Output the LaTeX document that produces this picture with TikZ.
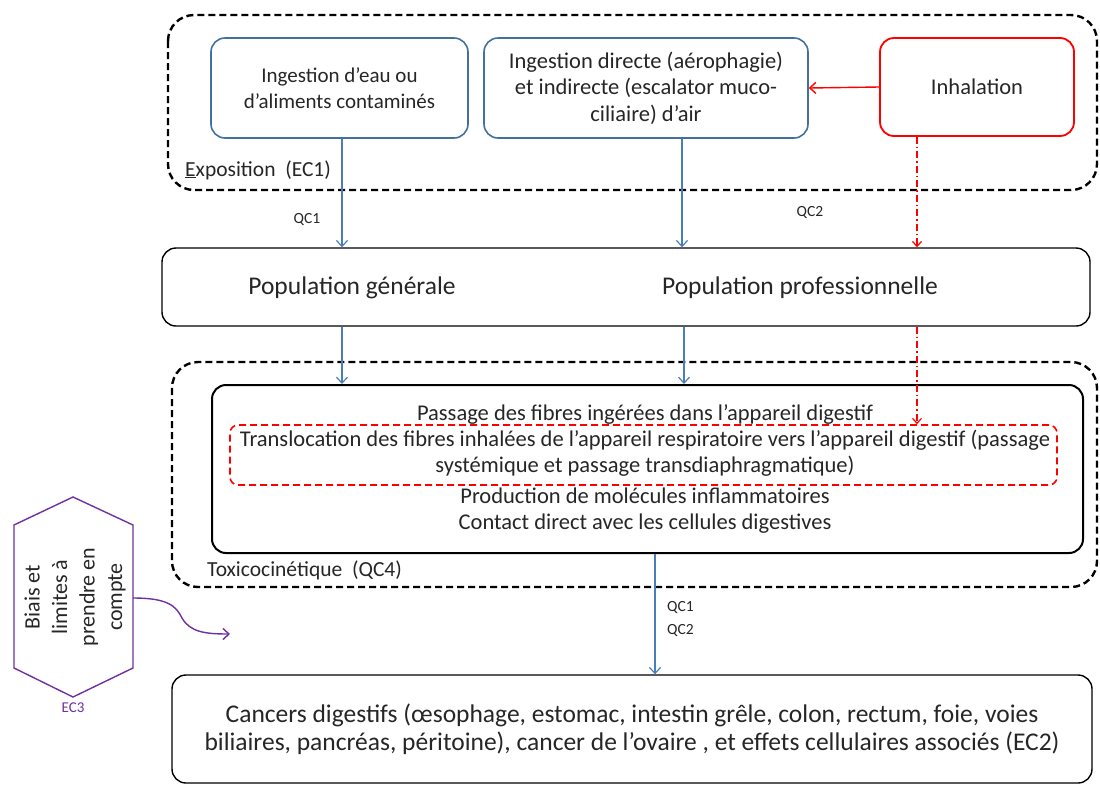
\documentclass[tikz,border=0pt]{standalone}
\usepackage{fontspec}
\setmainfont{Carlito}
\usetikzlibrary{arrows.meta}
\definecolor{boxblue}{HTML}{41719C}
\definecolor{arrblue}{HTML}{4A7EBB}
\definecolor{myred}{HTML}{FF0000}
\definecolor{mypurple}{HTML}{7030A0}
\definecolor{txt}{HTML}{262626}
\tikzset{
  every node/.style={text=txt},
  bluebox/.style={draw=boxblue, line width=1.6pt, rounded corners=14pt, align=center,
    font=\fontsize{21}{26.5}\selectfont, inner sep=0pt},
  redbox/.style={draw=myred, line width=1.8pt, rounded corners=14pt, align=center,
    font=\fontsize{22.5}{26.5}\selectfont, inner sep=0pt},
  blackbox/.style={draw=black, line width=1.4pt, rounded corners=14pt, align=center, inner sep=0pt},
  groupbox/.style={draw=black, line width=2.4pt, dash pattern=on 7pt off 4pt, rounded corners=26pt},
  reddash/.style={draw=myred, line width=1.6pt, dash pattern=on 7pt off 4pt, rounded corners=8pt},
  bluearrow/.style={draw=arrblue, line width=1.2pt, -{Straight Barb[length=6pt,width=11pt,line width=1.2pt]}},
  redarrow/.style={draw=myred, line width=1.4pt, -{Straight Barb[length=6pt,width=11pt,line width=1.4pt]}},
  reddashdot/.style={draw=myred, line width=1.2pt, dash pattern=on 7pt off 3pt on 1.5pt off 3pt, -{Straight Barb[length=5pt,width=9pt,line width=1.2pt]}},
  lbl/.style={font=\fontsize{21.5}{24}\selectfont, inner sep=0pt, anchor=west},
  qc/.style={font=\fontsize{15.5}{23}\selectfont, inner sep=0pt, align=left}
}
\begin{document}
\begin{tikzpicture}[x=1pt,y=-1pt]
\useasboundingbox (0,0) rectangle (1100,785);

% group boxes
\draw[groupbox] (168,15) rectangle (1097,190);
\draw[groupbox] (172,362) rectangle (1097,587);
\node[lbl] (explbl) at (185,170) {\underline{E}xposition\ \ (EC1)};
\node[lbl] (toxlbl) at (207,570) {Toxicocinétique\ \ (QC4)};

% exposure boxes
\node[bluebox, minimum width=257pt, minimum height=100pt] (b1) at (339.5,88)
  {Ingestion d’eau ou\\d’aliments contaminés};
\node[bluebox, font=\fontsize{22.5}{26.5}\selectfont, minimum width=324pt, minimum height=100pt] (b2) at (646,88)
  {Ingestion directe (aérophagie)\\et indirecte (escalator muco-\\ciliaire) d’air};
\node[redbox, minimum width=194pt, minimum height=98pt] (inh) at (977,87) {Inhalation};

\draw[redarrow] (inh.west) -- (b2.east);

% population
\node[blackbox, minimum width=928pt, minimum height=78pt] (pop) at (626,287) {};
\node[font=\fontsize{25.5}{30}\selectfont, inner sep=0pt] (popg) at (352,288) {Population générale};
\node[font=\fontsize{25.5}{30}\selectfont, inner sep=0pt] (popp) at (800,288) {Population professionnelle};

\draw[bluearrow] ([xshift=2.5pt]b1.south) -- ([xshift=2.5pt]b1.south |- pop.north);
\draw[bluearrow] ([xshift=36pt]b2.south) -- ([xshift=36pt]b2.south |- pop.north);
\draw[reddashdot] ([xshift=-60pt]inh.south) -- ([xshift=-60pt]inh.south |- pop.north);
\node[qc] (qc1a) at (307,219) {QC1};
\node[qc] (qc2a) at (810,212) {QC2};

% toxicokinetics
\node[blackbox, line width=2pt, minimum width=871pt, minimum height=168pt] (tox) at (647.5,469) {};
\node[reddash, minimum width=827pt, minimum height=60pt] (trans) at (643.5,455) {};
\node[font=\fontsize{22.5}{26}\selectfont, align=center, inner sep=0pt] (toxtxt) at (645,469)
  {Passage des fibres ingérées dans l’appareil digestif\\
   Translocation des fibres inhalées de l’appareil respiratoire vers l’appareil digestif (passage\\
   systémique et passage transdiaphragmatique)\\[4.5pt]
   Production de molécules inflammatoires\\
   Contact direct avec les cellules digestives};

\draw[bluearrow] (pop.south -| 342,0) -- (tox.north -| 342,0);
\draw[bluearrow] (pop.south -| 684,0) -- (tox.north -| 684,0);
\draw[reddashdot] (pop.south -| 917,0) -- (trans.north -| 917,0);

% cancers
\node[blackbox, minimum width=920pt, minimum height=108pt,
  font=\fontsize{25.5}{28}\selectfont] (canc) at (632,729)
  {Cancers digestifs (œsophage, estomac, intestin grêle, colon, rectum, foie, voies\\
   biliaires, pancréas, péritoine), cancer de l’ovaire , et effets cellulaires associés (EC2)};
\draw[bluearrow] (tox.south -| 655,0) -- (canc.north -| 655,0);
\node[qc, anchor=west] (qc12) at (667,619) {QC1\\QC2};

% hexagon
\coordinate (h1) at (73,497);
\coordinate (h2) at (133,525);
\coordinate (h3) at (133,668);
\coordinate (h4) at (73,697);
\coordinate (h5) at (14,668);
\coordinate (h6) at (14,525);
\draw[mypurple, line width=1.4pt] (h1) -- (h2) -- (h3) -- (h4) -- (h5) -- (h6) -- cycle;
\node[rotate=90, align=center, font=\fontsize{22}{27.5}\selectfont, inner sep=0pt] (bias) at (75,597)
  {Biais et\\limites à\\prendre en\\compte};
\node[font=\fontsize{15}{16}\selectfont, text=mypurple, inner sep=0pt] (ec3) at (73,708) {EC3};
\coordinate (hr) at (133,598);
\coordinate (aend) at (230,634);
\draw[mypurple, line width=1.4pt, -{Straight Barb[length=6pt,width=11pt,line width=1.4pt]}]
  (hr) .. controls (168,598) and (176,606) .. (182,618)
  .. controls (190,632) and (205,634) .. (aend);
\end{tikzpicture}
\end{document}
